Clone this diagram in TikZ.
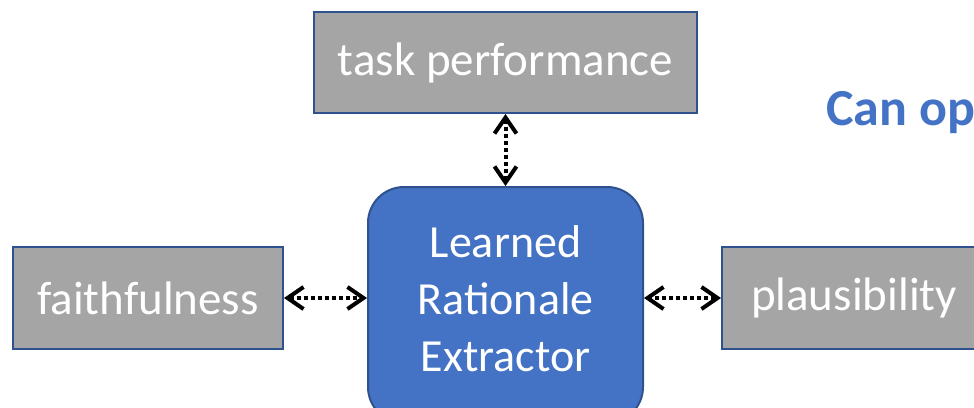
\documentclass[tikz,border=0pt]{standalone}
\usepackage{fontspec}
\setmainfont{Carlito}
\usetikzlibrary{arrows.meta}
\definecolor{boxgray}{HTML}{A5A5A5}
\definecolor{edgeblue}{HTML}{2F528F}
\definecolor{fillblue}{HTML}{4472C4}
\begin{document}
\begin{tikzpicture}[x=1pt,y=-1pt,
  metric/.style={draw=edgeblue, line width=2pt, fill=boxgray, text=white,
    font=\fontsize{47}{57}\selectfont, inner sep=0pt},
  core/.style={draw=edgeblue, line width=2pt, fill=fillblue, rounded corners=36pt},
  corelabel/.style={text=white, align=center, font=\fontsize{46}{57}\selectfont},
  tipbarb/.tip={Straight Barb[length=16pt,width=22pt]},
  link/.style={line width=4pt, dash pattern=on 4pt off 3pt, tipbarb-tipbarb}
]
\useasboundingbox (0,0) rectangle (974,407);

% criteria boxes
\node[metric, minimum width=383pt, minimum height=101pt] (task) at (505.5,62.5) {task performance};
\node[metric, minimum width=270pt, minimum height=102pt] (faith) at (148,298) {faithfulness};
\node[metric, minimum width=264pt, minimum height=102pt] (plaus) at (854,298) {plausibility};

% central model
\node[core, minimum width=275pt, minimum height=236pt] (lre) at (505.5,305) {};
\node[corelabel] (lretext) at (505.5,299) {Learned\\Rationale\\Extractor};

% question heading
\node[anchor=base west, inner sep=0pt, text=fillblue,
  font=\bfseries\fontsize{52}{60}\selectfont] (question) at (826,125) {Can op};

% two-way links
\draw[link] (task.south) -- (lre.north);
\draw[link] (faith.east) -- (faith.east -| lre.west);
\draw[link] (plaus.west) -- (plaus.west -| lre.east);
\end{tikzpicture}
\end{document}
